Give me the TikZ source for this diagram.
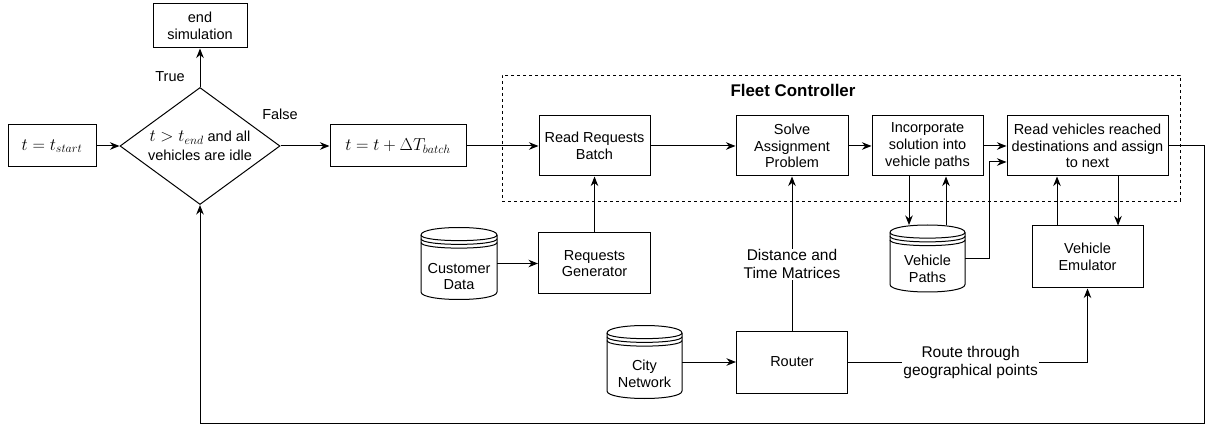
\documentclass[tikz,border=0pt]{standalone}
\usepackage[no-math]{fontspec}
\setmainfont{Liberation Sans}
\usetikzlibrary{arrows.meta,shapes.geometric,calc}
\newcommand\bxf{\fontsize{14.5}{16.7}\selectfont}
\newcommand\elf{\fontsize{15.5}{18}\selectfont}
\newcommand\mfnt{\fontsize{18}{20}\selectfont}
\newcommand\dfnt{\fontsize{14.5}{19}\selectfont}
\newcommand\bfnt{\fontsize{16.9}{19}\selectfont\bfseries}
\newcommand\dbshape[3]{%
  \begin{scope}[shift={(#1.north west)}]
    \def\dd{7.5}
    \draw[line] (0,\dd) .. controls (0,-\dd/3) and (#2,-\dd/3) .. (#2,\dd) -- (#2,#3-\dd) .. controls (#2,#3+\dd/3) and (0,#3+\dd/3) .. (0,#3-\dd) -- cycle;
    \foreach \s in {0,0.5,1} {\draw[line] (0,\dd+\s*\dd) .. controls (0,2*\dd+\s*\dd) and (#2,2*\dd+\s*\dd) .. (#2,\dd+\s*\dd);}
  \end{scope}}
\begin{document}
\begin{tikzpicture}[x=1pt,y=-1pt,
  line/.style={line width=1pt},
  arr/.style={line width=1pt,-{Stealth[length=9.5pt,width=7.5pt,inset=3pt]}},
  box/.style={draw,line width=1pt,rectangle,inner sep=1pt,align=center,font=\bxf},
  dbnode/.style={rectangle,inner sep=0pt,outer sep=0pt},
  txt/.style={align=center,font=\bxf,inner sep=0pt},
  lbl/.style={font=\bxf,inner sep=0pt},
  elabel/.style={fill=white,align=center,font=\elf,inner sep=1pt},
]
\fill[white] (0,0) rectangle (1206,427);
\useasboundingbox (0,0) rectangle (1206,427);

% fleet controller frame
\node[draw,dash pattern=on 3pt off 3pt,line width=0.8pt,minimum width=678pt,minimum height=126pt,inner sep=0pt] (fc) at (841,138) {};
\node[font=\bfnt,inner sep=0pt] (fct) at (793,90) {Fleet Controller};

% boxes
\node[box,minimum width=94pt,minimum height=44pt] (endsim) at (200,26) {end\\simulation};
\node[box,font=\mfnt,minimum width=88pt,minimum height=42pt] (tstart) at (52,146) {$t=t_{start}$};
\node[draw,line width=1pt,diamond,aspect=1.37,inner sep=0pt,minimum width=160pt,minimum height=117pt,align=center,font=\dfnt] (dia) at (200,146) {{\mfnt$t>t_{end}$} and all\\vehicles are idle};
\node[box,font=\mfnt,minimum width=136pt,minimum height=42pt] (tbatch) at (398,146) {$t=t+\Delta T_{batch}$};
\node[box,minimum width=111pt,minimum height=60pt] (rrb) at (594.5,146) {Read Requests\\Batch};
\node[box,minimum width=112pt,minimum height=60pt] (sap) at (792,146) {Solve\\Assignment\\Problem};
\node[box,minimum width=111pt,minimum height=60pt] (inc) at (927.5,146) {Incorporate\\solution into\\vehicle paths};
\node[box,minimum width=161pt,minimum height=60pt] (rvr) at (1087.5,146) {Read vehicles reached\\destinations and assign\\to next};
\node[box,minimum width=112pt,minimum height=61pt] (rg) at (594.5,263.5) {Requests\\Generator};
\node[box,minimum width=111pt,minimum height=62pt] (router) at (792,362) {Router};
\node[box,minimum width=111pt,minimum height=62pt] (emu) at (1087.5,257) {Vehicle\\Emulator};

% data stores
\node[dbnode,minimum width=76pt,minimum height=72pt] (cd) at (459,263.5) {};
\dbshape{cd}{76}{72}
\node[txt] (cdt) at ([yshift=-13pt]cd.center) {Customer\\Data};
\node[dbnode,minimum width=75pt,minimum height=73pt] (cn) at (644.5,362) {};
\dbshape{cn}{75}{73}
\node[txt] (cnt) at ([yshift=-12pt]cn.center) {City\\Network};
\node[dbnode,minimum width=75pt,minimum height=67pt] (vp) at (927.5,258.5) {};
\dbshape{vp}{75}{67}
\node[txt] (vpt) at ([yshift=-10.5pt]vp.center) {Vehicle\\Paths};

% labels
\node[lbl] (truel) at (170,77) {True};
\node[lbl] (falsel) at (280,114) {False};

% connectors
\draw[arr] (tstart.east) -- (dia.west);
\draw[arr] (dia.north) -- (endsim.south);
\draw[arr] (dia.east) -- (tbatch.west);
\draw[arr] (tbatch.east) -- (rrb.west);
\draw[arr] (rrb.east) -- (sap.west);
\draw[arr] (sap.east) -- (inc.west);
\draw[arr] (inc.east) -- (rvr.west);
\draw[arr] (rg.north) -- (rrb.south);
\draw[arr] (cd.east) -- (rg.west);
\draw[arr] (cn.east) -- (router.west);
\draw[arr] (router.north) -- node[elabel,pos=0.43] (dtm) {Distance and\\Time Matrices} (sap.south);
\draw[arr] (router.east) -| node[elabel,pos=0.256] (rtg) {Route through\\geographical points} (emu.south);
\draw[arr] ([xshift=-18.5pt]inc.south) -- ([xshift=-18.5pt]inc.south |- vp.north);
\draw[arr] ([xshift=18.5pt]vp.north) -- ([xshift=18.5pt]vp.north |- inc.south);
\draw[arr] (vp.east) -- ++(24,0) |- ([yshift=-16pt]rvr.west);
\draw[arr] ([xshift=-30.5pt]emu.north) -- ([xshift=-30.5pt]rvr.south);
\draw[arr] ([xshift=30.5pt]rvr.south) -- ([xshift=30.5pt]emu.north);
\coordinate (lr) at (1204,423);
\draw[arr] (rvr.east) -| (lr) -| (dia.south);
\end{tikzpicture}
\end{document}
